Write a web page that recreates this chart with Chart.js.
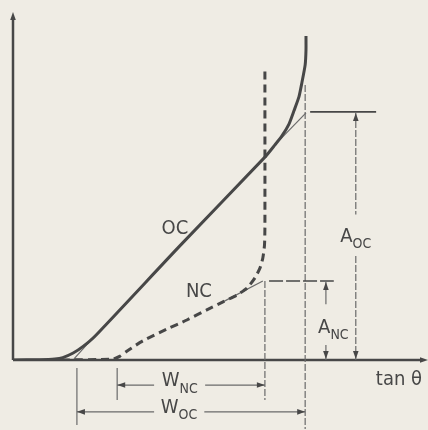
<!DOCTYPE html>
<html>
<head>
<meta charset="utf-8">
<script src="https://cdn.jsdelivr.net/npm/chart.js@4/dist/chart.umd.min.js"></script>
<style>
  html, body { margin: 0; padding: 0; background: #efece4; }
  #wrap { width: 428px; height: 430px; }
</style>
</head>
<body>
<div id="wrap"><canvas id="chart"></canvas></div>
<script>
// curve OC (solid) and NC (dashed), x = tan θ, y = response (arbitrary units 0..100)
const ocX = [0, 6.5, 10.1, 12.0, 14.5, 16.9, 19.8, 40.2, 60.7, 63.1, 64.8, 66.5, 67.7, 68.9, 69.6, 70.4, 70.6, 70.6];
const ocY = [0, 0.1, 0.3, 0.7, 2.0, 3.9, 6.9, 32.8, 58.3, 61.8, 64.4, 67.8, 71.6, 75.6, 79.6, 84.8, 89.1, 93.1];
const ncX = [11.8, 24.1, 25.8, 27.5, 31.3, 37.1, 41.9, 46.7, 50.6, 54.0, 56.4, 58.3, 59.5, 60.2, 60.6, 60.7, 60.7];
const ncY = [0, 0.3, 1.1, 2.6, 5.5, 8.9, 11.5, 14.4, 16.7, 18.7, 20.7, 23.6, 26.4, 29.3, 33.0, 37.9, 84.2];
// tangent extensions of the linear parts
const ocTanX = [63.1, 70.6];
const ocTanY = [61.8, 71.0];
const ocFootX = [18.6, 14.7];
const ocFootY = [5.5, 0.3];
const ncTanX = [50.6, 60.2];
const ncTanY = [16.7, 22.7];
// dimension values
const aOC = 71.3;
const aNC = 22.7;
const wOC = [15.4, 70.4];
const wNC = [25.1, 60.7];

const ink = "#474747";
const thin = "#6a6a6a";
const font = "'DejaVu Sans Condensed', 'DejaVu Sans', sans-serif";

const pts = (xs, ys) => xs.map((x, i) => ({ x: x, y: ys[i] }));

function arrowHead(ctx, x, y, dx, dy) {
  const len = 8, w = 2.8;
  ctx.save();
  ctx.fillStyle = ink;
  ctx.beginPath();
  ctx.moveTo(x, y);
  ctx.lineTo(x - dx * len - dy * w, y - dy * len + dx * w);
  ctx.lineTo(x - dx * len + dy * w, y - dy * len - dx * w);
  ctx.closePath();
  ctx.fill();
  ctx.restore();
}

function line(ctx, x1, y1, x2, y2, width, color, dash) {
  ctx.save();
  ctx.strokeStyle = color;
  ctx.lineWidth = width;
  ctx.setLineDash(dash || []);
  ctx.beginPath();
  ctx.moveTo(x1, y1);
  ctx.lineTo(x2, y2);
  ctx.stroke();
  ctx.restore();
}

// main letter with a lowered subscript, centred on cx
function subLabel(ctx, main, sub, cx, cy) {
  ctx.save();
  ctx.fillStyle = ink;
  ctx.textBaseline = "middle";
  ctx.font = "20px " + font;
  const w1 = ctx.measureText(main).width;
  ctx.font = "14px " + font;
  const w2 = ctx.measureText(sub).width;
  const left = cx - (w1 + w2) / 2;
  ctx.font = "20px " + font;
  ctx.fillText(main, left, cy);
  ctx.font = "14px " + font;
  ctx.fillText(sub, left + w1, cy + 8);
  ctx.restore();
  return w1 + w2;
}

const sketch = {
  id: "sketch",
  beforeDraw(chart) {
    const ctx = chart.ctx;
    ctx.save();
    ctx.fillStyle = "#efece4";
    ctx.fillRect(0, 0, chart.width, chart.height);
    ctx.restore();
  },
  beforeDatasetsDraw(chart) {
    const ctx = chart.ctx;
    const X = v => chart.scales.x.getPixelForValue(v);
    const Y = v => chart.scales.y.getPixelForValue(v);
    // axes
    line(ctx, X(0), Y(0), X(0), Y(100) + 6, 2.5, ink);
    arrowHead(ctx, X(0), Y(100), 0, -1);
    line(ctx, X(0), Y(0), X(100) - 6, Y(0), 2.5, ink);
    arrowHead(ctx, X(100), Y(0), 1, 0);

    // extension lines
    const d = [7, 2];
    line(ctx, X(ncX[ncX.length - 1]), Y(aNC), X(ncX[ncX.length - 1]), Y(-11.5), 1.2, thin, d);
    line(ctx, X(wOC[1]), Y(79), X(wOC[1]), Y(-19.8), 1.2, thin, d);
    line(ctx, X(wOC[0]), Y(-2.3), X(wOC[0]), Y(-18.7), 1.2, thin);
    line(ctx, X(wNC[0]), Y(-2.3), X(wNC[0]), Y(-11.5), 1.2, thin);

    // A_OC dimension
    line(ctx, X(71.6), Y(aOC), X(87.5), Y(aOC), 1.6, ink);
    const axOC = X(82.6);
    line(ctx, axOC, Y(aOC), axOC, Y(41.8), 1.2, thin, d);
    line(ctx, axOC, Y(29.9), axOC, Y(0), 1.2, thin, d);
    arrowHead(ctx, axOC, Y(aOC) + 1, 0, -1);
    arrowHead(ctx, axOC, Y(0) - 1, 0, 1);
    subLabel(ctx, "A", "OC", X(82.6), Y(35.4));

    // A_NC dimension
    line(ctx, X(61.7), Y(aNC), X(77.3), Y(aNC), 1.6, ink, [14, 3]);
    const axNC = X(75.4);
    line(ctx, axNC, Y(aNC), axNC, Y(16.0), 1.2, thin);
    line(ctx, axNC, Y(4.3), axNC, Y(0), 1.2, thin);
    arrowHead(ctx, axNC, Y(aNC) + 1, 0, -1);
    arrowHead(ctx, axNC, Y(0) - 1, 0, 1);
    subLabel(ctx, "A", "NC", X(77.2), Y(9.3));

    // W_NC dimension
    const yNC = Y(-7.2);
    line(ctx, X(wNC[0]), yNC, X(34.0), yNC, 1.2, thin);
    line(ctx, X(46.3), yNC, X(wNC[1]), yNC, 1.2, thin);
    arrowHead(ctx, X(wNC[0]), yNC, -1, 0);
    arrowHead(ctx, X(wNC[1]), yNC, 1, 0);
    subLabel(ctx, "W", "NC", X(40.2), yNC - 4);

    // W_OC dimension
    const yOC = Y(-14.9);
    line(ctx, X(wOC[0]), yOC, X(34.0), yOC, 1.2, thin);
    line(ctx, X(46.1), yOC, X(wOC[1]), yOC, 1.2, thin);
    arrowHead(ctx, X(wOC[0]), yOC, -1, 0);
    arrowHead(ctx, X(wOC[1]), yOC, 1, 0);
    subLabel(ctx, "W", "OC", X(40.0), yOC - 4);

    // curve labels
    ctx.save();
    ctx.fillStyle = ink;
    ctx.textAlign = "center";
    ctx.textBaseline = "middle";
    ctx.font = "20px " + font;
    ctx.fillText("OC", X(39.0), Y(37.6));
    ctx.fillText("NC", X(44.8), Y(19.5));
    ctx.fillText("tan θ", X(93.0), Y(-5.8));
    ctx.restore();
  }
};

new Chart(document.getElementById("chart"), {
  type: "scatter",
  data: {
    datasets: [
      { label: "OC", data: pts(ocX, ocY), showLine: true, borderColor: ink, borderWidth: 3, pointRadius: 0, tension: 0.2 },
      { label: "NC", data: pts(ncX, ncY), showLine: true, borderColor: ink, borderWidth: 3, borderDash: [8, 5], pointRadius: 0, tension: 0.2 },
      { label: "OC tangent", data: pts(ocTanX, ocTanY), showLine: true, borderColor: thin, borderWidth: 1.2, pointRadius: 0 },
      { label: "OC foot", data: pts(ocFootX, ocFootY), showLine: true, borderColor: thin, borderWidth: 1.2, pointRadius: 0 },
      { label: "NC tangent", data: pts(ncTanX, ncTanY), showLine: true, borderColor: thin, borderWidth: 1.2, pointRadius: 0 }
    ]
  },
  options: {
    responsive: true,
    maintainAspectRatio: false,
    animation: false,
    layout: { padding: { left: 13, right: 0, top: 12, bottom: 70 } },
    scales: {
      x: { type: "linear", min: 0, max: 100, display: false },
      y: { type: "linear", min: 0, max: 100, display: false }
    },
    plugins: { legend: { display: false }, tooltip: { enabled: false } }
  },
  plugins: [sketch]
});
</script>
</body>
</html>
